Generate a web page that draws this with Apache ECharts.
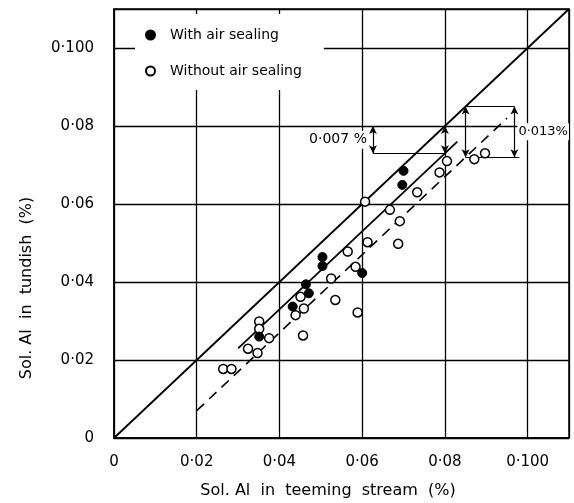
<!DOCTYPE html>
<html><head><meta charset="utf-8">
<script src="https://cdn.jsdelivr.net/npm/echarts@6/dist/echarts.min.js"></script>
<style>html,body{margin:0;padding:0;background:#fff}#c{width:574px;height:503px}</style>
</head><body><div id="c"></div>
<script>
const xTickLabels = ['0','0·02','0·04','0·06','0·08','0·100'];
const yTickLabels = ['0','0·02','0·04','0·06','0·08','0·100'];
const withSealX = [0.0351,0.0432,0.0464,0.0471,0.0504,0.0504,0.0600,0.0697,0.0700];
const withSealY = [0.0260,0.0337,0.0394,0.0371,0.0464,0.0441,0.0423,0.0649,0.0685];
const withoutSealX = [0.0264,0.0284,0.0324,0.0347,0.0351,0.0351,0.0375,0.0439,0.0451,0.0457,0.0459,0.0525,0.0535,0.0565,0.0584,0.0589,0.0607,0.0613,0.0667,0.0687,0.0691,0.0733,0.0787,0.0805,0.0871,0.0897];
const withoutSealY = [0.0177,0.0177,0.0229,0.0218,0.0299,0.0280,0.0256,0.0315,0.0362,0.0263,0.0332,0.0409,0.0354,0.0478,0.0439,0.0322,0.0606,0.0502,0.0585,0.0498,0.0556,0.0630,0.0681,0.0710,0.0715,0.0730];
const equalLine = [[0,0],[0.11,0.11]];
const solidBand = {offset:0.007, xFrom:0.030, xTo:0.083};
const dashedBand = {offset:0.013, xFrom:0.020, xTo:0.095};
const dim007 = {xL:0.0626, xR:0.080, yTop:0.080, yBot:0.073, label:'0·007 %'};
const dim013 = {xL:0.085, xR:0.0968, xBotEnd:0.098, yTop:0.085, yBot:0.072, label:'0·013%'};

const FONT = 'DejaVu Sans';
const pairs = (xs, ys) => xs.map((x,i)=>[x, ys[i]]);
const band = b => [[b.xFrom, b.xFrom - b.offset],[b.xTo, b.xTo - b.offset]];
const seg = (a,b) => [{coord:a},{coord:b}];
const arrowSeg = (a,b) => [{coord:a, symbol:'arrow', symbolSize:[6,8]},{coord:b, symbol:'arrow', symbolSize:[6,8]}];

const chart = echarts.init(document.getElementById('c'), null, {renderer:'canvas'});
chart.setOption({
  animation:false,
  backgroundColor:'#fff',
  textStyle:{fontFamily:FONT, color:'#000'},
  grid:{left:114, top:9, width:455, height:429, show:true, borderColor:'#000', borderWidth:1.5, backgroundColor:'transparent'},
  xAxis:{type:'value', min:0, max:0.11, interval:0.02,
    axisLine:{show:true, onZero:false, lineStyle:{color:'#000', width:1.5}},
    axisTick:{show:false},
    splitLine:{show:true, lineStyle:{color:'#000', width:1.3}},
    axisLabel:{showMaxLabel:false, color:'#000', fontSize:15, fontFamily:FONT, margin:17,
      formatter:v=>xTickLabels[Math.round(v/0.02)]||''}},
  yAxis:{type:'value', min:0, max:0.11, interval:0.02,
    axisLine:{show:true, onZero:false, lineStyle:{color:'#000', width:1.5}},
    axisTick:{show:false},
    splitLine:{show:true, lineStyle:{color:'#000', width:1.3}},
    axisLabel:{showMaxLabel:false, color:'#000', fontSize:15, fontFamily:FONT, margin:20,
      formatter:v=>yTickLabels[Math.round(v/0.02)]||''}},
  legend:{orient:'vertical', left:135, top:14, padding:[14,22,12,10], backgroundColor:'#fff',
    itemWidth:9, itemHeight:9, itemGap:22, selectedMode:false,
    textStyle:{fontSize:14, fontFamily:FONT, color:'#000', padding:[0,0,0,10], lineHeight:14},
    data:[{name:'With air sealing', icon:'circle'},{name:'Without air sealing', icon:'circle'}]},
  graphic:[
    {type:'text', x:328, y:491, silent:true, style:{text:'Sol. Al  in  teeming  stream  (%)', font:'16px "DejaVu Sans"', fill:'#000', textAlign:'center', textVerticalAlign:'middle'}},
    {type:'text', x:27, y:288, rotation:Math.PI/2, silent:true, style:{text:'Sol. Al  in  tundish  (%)', font:'16px "DejaVu Sans"', fill:'#000', textAlign:'center', textVerticalAlign:'middle'}}
  ],
  series:[
    {name:'equal', type:'line', data:equalLine, symbol:'none', silent:true, z:3,
      lineStyle:{color:'#000', width:1.8},
      markLine:{silent:true, symbol:'none', animation:false, label:{show:false},
        lineStyle:{color:'#000', width:1.2, type:'solid', opacity:1},
        data:[
          seg([dim007.xL, dim007.yBot],[dim007.xR, dim007.yBot]),
          arrowSeg([dim007.xL, dim007.yTop],[dim007.xL, dim007.yBot]),
          arrowSeg([dim007.xR, dim007.yTop],[dim007.xR, dim007.yBot]),
          seg([dim013.xL, dim013.yTop],[dim013.xR, dim013.yTop]),
          seg([dim013.xL, dim013.yBot],[dim013.xBotEnd, dim013.yBot]),
          arrowSeg([dim013.xL, dim013.yTop],[dim013.xL, dim013.yBot]),
          arrowSeg([dim013.xR, dim013.yTop],[dim013.xR, dim013.yBot])
        ]}},
    {name:'band007', type:'line', data:band(solidBand), symbol:'none', silent:true, z:3,
      lineStyle:{color:'#000', width:1.8}},
    {name:'band013', type:'line', data:band(dashedBand), symbol:'none', silent:true, z:3,
      lineStyle:{color:'#000', width:1.6, type:[10,7]}},
    {name:'annot', type:'scatter', symbolSize:0, silent:true, z:6,
      itemStyle:{opacity:1},
      label:{show:true, formatter:'{b}', color:'#000', fontSize:14, fontFamily:FONT, backgroundColor:'#fff', padding:[2,1]},
      data:[
        {name:dim007.label, value:[dim007.xL, (dim007.yTop+dim007.yBot)/2], label:{position:'left', distance:5}},
        {name:dim013.label, value:[dim013.xR, 0.0785], label:{position:'right', distance:3, fontSize:13}}
      ]},
    {name:'Without air sealing', type:'scatter', data:pairs(withoutSealX, withoutSealY), symbol:'circle', symbolSize:9, z:5,
      itemStyle:{color:'#fff', borderColor:'#000', borderWidth:1.5, opacity:1}},
    {name:'With air sealing', type:'scatter', data:pairs(withSealX, withSealY), symbol:'circle', symbolSize:9, z:5,
      itemStyle:{color:'#000', borderColor:'#000', borderWidth:1, opacity:1}}
  ]
});
</script></body></html>
